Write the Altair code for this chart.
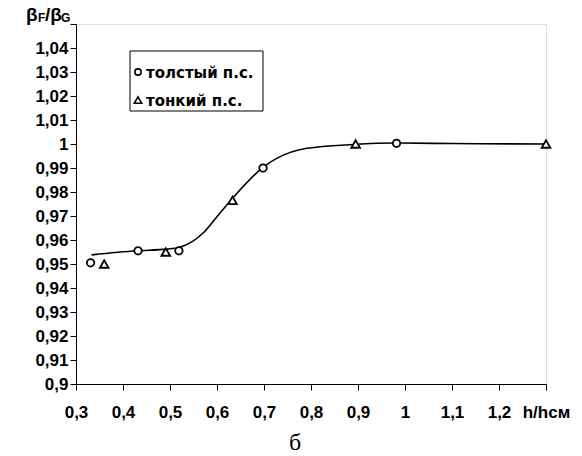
import altair as alt
import pandas as pd

# ---- data ----
thick_x = [0.331, 0.432, 0.519, 0.698, 0.982]
thick_y = [0.9505, 0.9555, 0.9555, 0.990, 1.0003]
thin_x = [0.360, 0.491, 0.633, 0.895, 1.300]
thin_y = [0.9500, 0.9550, 0.9765, 1.0000, 1.0000]
curve_x = [0.333, 0.429, 0.493, 0.521, 0.571, 0.599, 0.635, 0.698, 0.727, 0.791, 0.890, 0.982, 1.100, 1.300]
curve_y = [0.9538, 0.9555, 0.9562, 0.9570, 0.9630, 0.9695, 0.9778, 0.9903, 0.9940, 0.9982, 0.9998, 1.0004, 1.0002, 1.0000]
series_names = ["толстый п.с.", "тонкий п.с."]
series_shapes = ["circle", "triangle-up"]
x_ticks = [0.3, 0.4, 0.5, 0.6, 0.7, 0.8, 0.9, 1.0, 1.1, 1.2, 1.3]
y_ticks = [0.9, 0.91, 0.92, 0.93, 0.94, 0.95, 0.96, 0.97, 0.98, 0.99, 1.0, 1.01, 1.02, 1.03, 1.04, 1.05]
x_unit = "h/hсм"
panel_label = "б"

pts = pd.DataFrame(
    {"x": thick_x + thin_x,
     "y": thick_y + thin_y,
     "s": [series_names[0]] * len(thick_x) + [series_names[1]] * len(thin_x)}
)
curve = pd.DataFrame({"x": curve_x, "y": curve_y})

FONT = "Liberation Sans"

xscale = alt.Scale(domain=[0.3, 1.3], nice=False, zero=False)
yscale = alt.Scale(domain=[0.9, 1.05], nice=False, zero=False)

xaxis = alt.Axis(
    values=x_ticks, grid=False, title=None, tickSize=6, labelPadding=14,
    labelExpr=f"datum.value > 1.25 ? '{x_unit}' : replace(format(datum.value, '.1~f'), '.', ',')",
    labelFont=FONT, labelFontSize=17, labelFontWeight="bold", labelColor="black",
    domainColor="black", tickColor="black", labelFlush=False, labelOverlap=False,
)
yaxis = alt.Axis(
    values=y_ticks, grid=False, title=None, tickSize=6, labelPadding=2,
    labelExpr="datum.value > 1.045 ? '' : replace(format(datum.value, '.2~f'), '.', ',')",
    labelFont=FONT, labelFontSize=17, labelFontWeight="bold", labelColor="black",
    domainColor="black", tickColor="black", labelFlush=False, labelOverlap=False,
)

line = alt.Chart(curve).mark_line(color="black", strokeWidth=1.6, interpolate="monotone").encode(
    x=alt.X("x:Q", scale=xscale, axis=xaxis),
    y=alt.Y("y:Q", scale=yscale, axis=yaxis),
)

points = alt.Chart(pts).mark_point(filled=True, fill="white", stroke="black", strokeWidth=1.8, opacity=1).encode(
    x=alt.X("x:Q", scale=xscale, axis=xaxis),
    y=alt.Y("y:Q", scale=yscale, axis=yaxis),
    shape=alt.Shape("s:N", scale=alt.Scale(domain=series_names, range=series_shapes), legend=None),
    size=alt.Size("s:N", scale=alt.Scale(domain=series_names, range=[55, 75]), legend=None),
)

one = pd.DataFrame({"a": [0]})

def txt(t, x, y, size, weight="bold", font=FONT, align="left", baseline="alphabetic"):
    return alt.Chart(one).mark_text(
        text=t, font=font, fontSize=size, fontWeight=weight, color="black",
        align=align, baseline=baseline,
    ).encode(x=alt.value(x), y=alt.value(y))

# y-axis title beta_F / beta_G
title_parts = [
    txt("β", -50, -3, 19),
    txt("F", -38, -2, 12),
    txt("/β", -31, -3, 19),
    txt("G", -15, -2, 12),
]

# legend box
legend_box = alt.Chart(one).mark_rect(fill="white", stroke="black", strokeWidth=1).encode(
    x=alt.value(54), x2=alt.value(187), y=alt.value(27), y2=alt.value(87)
)
legend_layers = [legend_box]
for i, (name, shp) in enumerate(zip(series_names, series_shapes)):
    yy = 48 + 28 * i
    legend_layers.append(
        alt.Chart(one).mark_point(shape=shp, filled=True, fill="white", stroke="black",
                                  strokeWidth=1.6, size=40 if shp == "circle" else 55, opacity=1)
        .encode(x=alt.value(62), y=alt.value(yy))
    )
    legend_layers.append(txt(name, 70, yy + 1, 15, font="DejaVu Sans", baseline="middle"))

panel = txt(panel_label, 219, 419, 24, weight="normal", font="Liberation Serif", align="center", baseline="middle")

chart = alt.layer(line, points, *legend_layers, *title_parts, panel).properties(
    width=470, height=360,
    autosize=alt.AutoSizeParams(type="none"),
    padding={"left": 76, "top": 24, "right": 36, "bottom": 72},
).configure_view(stroke=None).configure(background="white")

chart.save("out.html", embed_options={"renderer": "svg", "actions": False})
